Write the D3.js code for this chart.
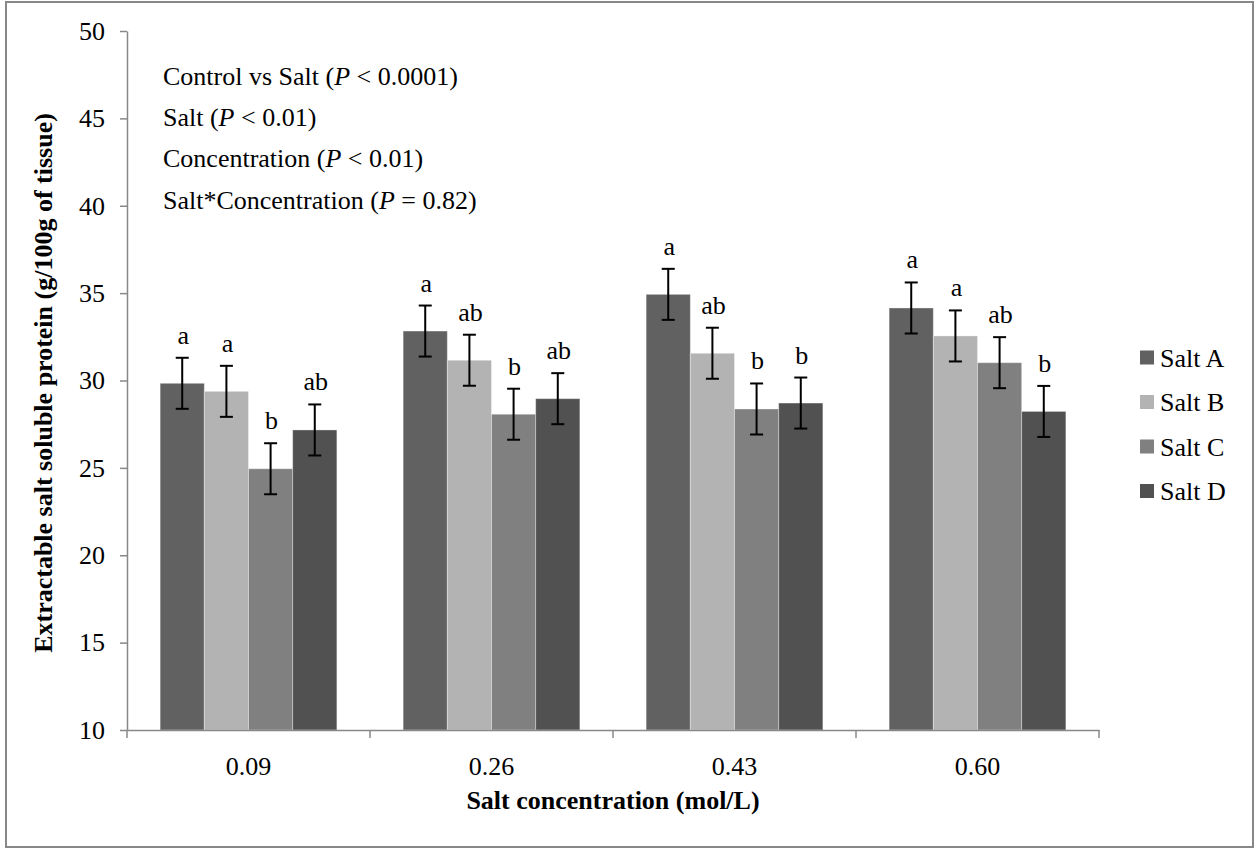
<!DOCTYPE html>
<html>
<head>
<meta charset="utf-8">
<script src="https://cdn.jsdelivr.net/npm/d3@7"></script>
<style>
  body { margin: 0; background: #fff; }
  svg text { font-family: "Liberation Serif", "Times New Roman", Times, "DejaVu Serif", serif; fill: #000; }
  .axis path, .axis line { stroke: #888; stroke-width: 1.5; }
  .axis text { font-size: 26px; }
</style>
</head>
<body>
<svg class="chart" width="1259" height="855"></svg>
<script>
const concentrations = ["0.09", "0.26", "0.43", "0.60"]
const series = ["Salt A", "Salt B", "Salt C", "Salt D"]
const colors = ["#616161", "#b3b3b3", "#808080", "#515151"]

// mean per series, one value per concentration
const saltA = [29.84, 32.83, 34.93, 34.15]
const saltB = [29.38, 31.16, 31.56, 32.55]
const saltC = [24.95, 28.07, 28.37, 31.02]
const saltD = [27.17, 28.96, 28.71, 28.23]

// standard error
const errA = [1.46, 1.46, 1.46, 1.46]
const errB = [1.46, 1.46, 1.46, 1.46]
const errC = [1.46, 1.46, 1.46, 1.46]
const errD = [1.46, 1.46, 1.46, 1.46]

// significance letters
const lettersA = ["a", "a", "a", "a"]
const lettersB = ["a", "ab", "ab", "a"]
const lettersC = ["b", "b", "b", "ab"]
const lettersD = ["ab", "ab", "b", "b"]

const yTicks = [10, 15, 20, 25, 30, 35, 40, 45, 50]

const stats = [
  ["Control vs Salt (", "P", " < 0.0001)"],
  ["Salt (", "P", " < 0.01)"],
  ["Concentration (", "P", " < 0.01)"],
  ["Salt*Concentration (", "P", " = 0.82)"]
]

const FONT = "'Liberation Serif', 'Times New Roman', Times, 'DejaVu Serif', serif"

const means = [saltA, saltB, saltC, saltD]
const errs = [errA, errB, errC, errD]
const letters = [lettersA, lettersB, lettersC, lettersD]

const bars = []
concentrations.forEach((c, i) => {
  series.forEach((s, j) => {
    bars.push({ conc: c, salt: s, color: colors[j], v: means[j][i], e: errs[j][i], lab: letters[j][i] })
  })
})

const svg = d3.select("svg.chart")
  .attr("font-family", FONT)

// outer frame
svg.append("rect")
  .attr("x", 6).attr("y", 2)
  .attr("width", 1247).attr("height", 845)
  .attr("fill", "none")
  .attr("stroke", "#888")
  .attr("stroke-width", 2)

const x0 = d3.scaleBand()
  .domain(concentrations)
  .range([127, 1099])

const x1 = d3.scaleBand()
  .domain(series)
  .range([0, x0.bandwidth()])
  .paddingOuter(0.75)

const y = d3.scaleLinear()
  .domain([10, 50])
  .range([730, 31])

// bars
svg.append("g")
  .selectAll("rect")
  .data(bars)
  .enter()
  .append("rect")
  .attr("x", d => x0(d.conc) + x1(d.salt))
  .attr("y", d => y(d.v))
  .attr("width", x1.bandwidth())
  .attr("height", d => y(10) - y(d.v))
  .attr("fill", d => d.color)
  .attr("stroke", "rgba(255,255,255,0.35)")
  .attr("stroke-width", 1)

// error bars
const eb = svg.append("g")
  .attr("stroke", "#000")
  .attr("stroke-width", 2)
  .selectAll("g")
  .data(bars)
  .enter()
  .append("g")
  .attr("transform", d => `translate(${x0(d.conc) + x1(d.salt) + x1.bandwidth() / 2}, 0)`)

eb.append("line")
  .attr("y1", d => y(d.v + d.e))
  .attr("y2", d => y(d.v - d.e))
eb.append("line")
  .attr("x1", -6.5).attr("x2", 6.5)
  .attr("y1", d => y(d.v + d.e)).attr("y2", d => y(d.v + d.e))
eb.append("line")
  .attr("x1", -6.5).attr("x2", 6.5)
  .attr("y1", d => y(d.v - d.e)).attr("y2", d => y(d.v - d.e))

// letters
svg.append("g")
  .selectAll("text")
  .data(bars)
  .enter()
  .append("text")
  .attr("x", d => x0(d.conc) + x1(d.salt) + x1.bandwidth() / 2 + 1)
  .attr("y", d => y(d.v + d.e) - 14)
  .attr("text-anchor", "middle")
  .attr("font-family", FONT)
  .attr("font-size", 26)
  .text(d => d.lab)

// axes
svg.append("g")
  .attr("class", "axis")
  .attr("transform", "translate(127,0)")
  .call(d3.axisLeft(y).tickValues(yTicks).tickSize(7).tickPadding(15).tickSizeOuter(0))
  .attr("font-family", FONT)
  .call(g => g.selectAll("text").attr("fill", "#000"))

svg.append("g")
  .attr("class", "axis")
  .attr("transform", "translate(0,730)")
  .call(d3.axisBottom(x0).tickSize(0).tickPadding(27).tickSizeOuter(0))
  .attr("font-family", FONT)
  .call(g => g.selectAll("text").attr("fill", "#000"))
  .call(g => g.selectAll(".bound")
    .data(d3.range(concentrations.length + 1))
    .enter()
    .append("line")
    .attr("class", "bound")
    .attr("x1", i => 127 + i * x0.step())
    .attr("x2", i => 127 + i * x0.step())
    .attr("y1", 0).attr("y2", 8))

svg.selectAll(".axis .domain").attr("stroke", "#888")

// axis titles
svg.append("text")
  .attr("x", 613).attr("y", 809)
  .attr("text-anchor", "middle")
  .attr("font-family", FONT)
  .attr("font-size", 26)
  .attr("font-weight", "bold")
  .text("Salt concentration (mol/L)")

svg.append("text")
  .attr("transform", "translate(52,383) rotate(-90)")
  .attr("text-anchor", "middle")
  .attr("font-family", FONT)
  .attr("font-size", 26)
  .attr("font-weight", "bold")
  .text("Extractable salt soluble protein (g/100g of tissue)")

// statistics
const st = svg.append("g")
  .selectAll("text")
  .data(stats)
  .enter()
  .append("text")
  .attr("x", 163)
  .attr("y", (d, i) => 85 + i * 41.2)
  .attr("font-family", FONT)
  .attr("font-size", 26)
st.append("tspan").text(d => d[0])
st.append("tspan").attr("font-style", "italic").text(d => d[1])
st.append("tspan").text(d => d[2])

// legend
const lg = svg.append("g")
  .selectAll("g")
  .data(series)
  .enter()
  .append("g")
  .attr("transform", (d, i) => `translate(1140, ${366.5 + i * 44.5})`)
lg.append("rect")
  .attr("x", 0).attr("y", -16)
  .attr("width", 14).attr("height", 14)
  .attr("fill", (d, i) => colors[i])
lg.append("text")
  .attr("x", 20).attr("y", 0)
  .attr("font-family", FONT)
  .attr("font-size", 26)
  .text(d => d)
</script>
</body>
</html>
